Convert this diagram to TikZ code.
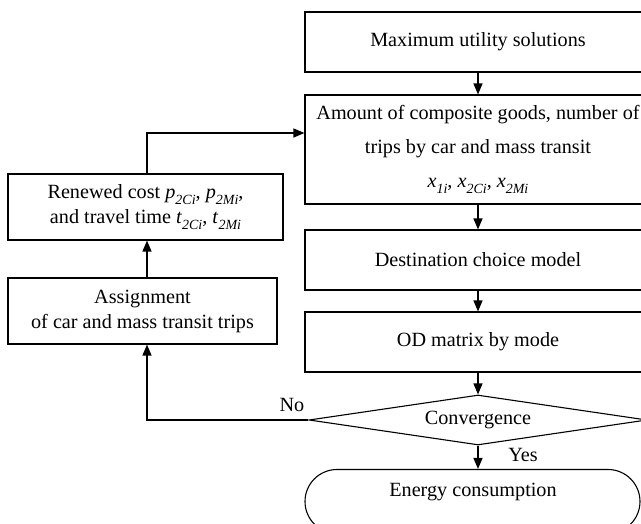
\documentclass[tikz,border=0pt]{standalone}
\usepackage{fontspec}
\setmainfont{Liberation Serif}
\usetikzlibrary{shapes.geometric,arrows.meta}
\newcommand\fs{\fontsize{20.2}{25}\selectfont}
\newcommand\fsw{\fontsize{20.2}{34}\selectfont}
\newcommand\isub[1]{\raisebox{-0.28em}{\fontsize{14}{14}\selectfont\itshape #1}}
\begin{document}
\begin{tikzpicture}[x=1pt,y=-1pt,
  box/.style={draw,line width=1.1pt,inner sep=0pt,align=center,font=\fs},
  arr/.style={line width=1.4pt,-{Triangle[length=11pt,width=9pt]}}]
\useasboundingbox (0,0) rectangle (641,524);
\clip (0,0) rectangle (641,524);
% right column
\node[box,minimum width=346pt,minimum height=60pt] (mu) at (478,42) {Maximum utility solutions};
\node[box,font=\fsw,minimum width=346pt,minimum height=109pt] (ac) at (478,149.5)
  {Amount of composite goods, number of\\ trips by car and mass transit\\ \textit{x}\isub{1i}, \textit{x}\isub{2Ci}, \textit{x}\isub{2Mi}};
\node[box,minimum width=346pt,minimum height=60pt] (dc) at (478,260) {Destination choice model};
\node[box,minimum width=346pt,minimum height=60pt] (od) at (478,342) {OD matrix by mode};
\node[diamond,draw,line width=1.1pt,aspect=6.6,inner sep=0pt,minimum width=338pt,minimum height=50pt,font=\fs] (cv) at (478,420) {Convergence};
\node[draw,rounded corners=32pt,line width=1.1pt,inner sep=0pt,minimum width=335pt,minimum height=64pt] (ecshape) at (472.5,501.5) {};
\node[font=\fs] (ec) at (473,492) {Energy consumption};
% left column
\node[box,minimum width=275pt,minimum height=66pt] (rc) at (145.5,207)
  {Renewed cost \textit{p}\isub{2Ci}, \textit{p}\isub{2Mi},\\ and travel time \textit{t}\isub{2Ci}, \textit{t}\isub{2Mi}};
\node[box,minimum width=269pt,minimum height=66pt] (as) at (142.5,311)
  {Assignment\\ of car and mass transit trips};
% labels
\node[font=\fs] (no) at (292,405) {No};
\node[font=\fs] (yes) at (523,455) {Yes};
% connectors
\coordinate (nocorner) at (147,420);
\coordinate (up) at (147,133);
\draw[arr] (mu.south) -- (ac.north);
\draw[arr] (ac.south) -- (dc.north);
\draw[arr] (dc.south) -- (od.north);
\draw[arr] (od.south) -- (cv.north);
\draw[arr] (cv.south) -- (cv.south |- ecshape.north);
\draw[arr] (cv.west) -- (nocorner) -- (nocorner |- as.south);
\draw[arr] (as.north -| nocorner) -- (rc.south -| nocorner);
\draw[arr] (rc.north -| up) -- (up) -- (up -| ac.west);
\end{tikzpicture}
\end{document}
